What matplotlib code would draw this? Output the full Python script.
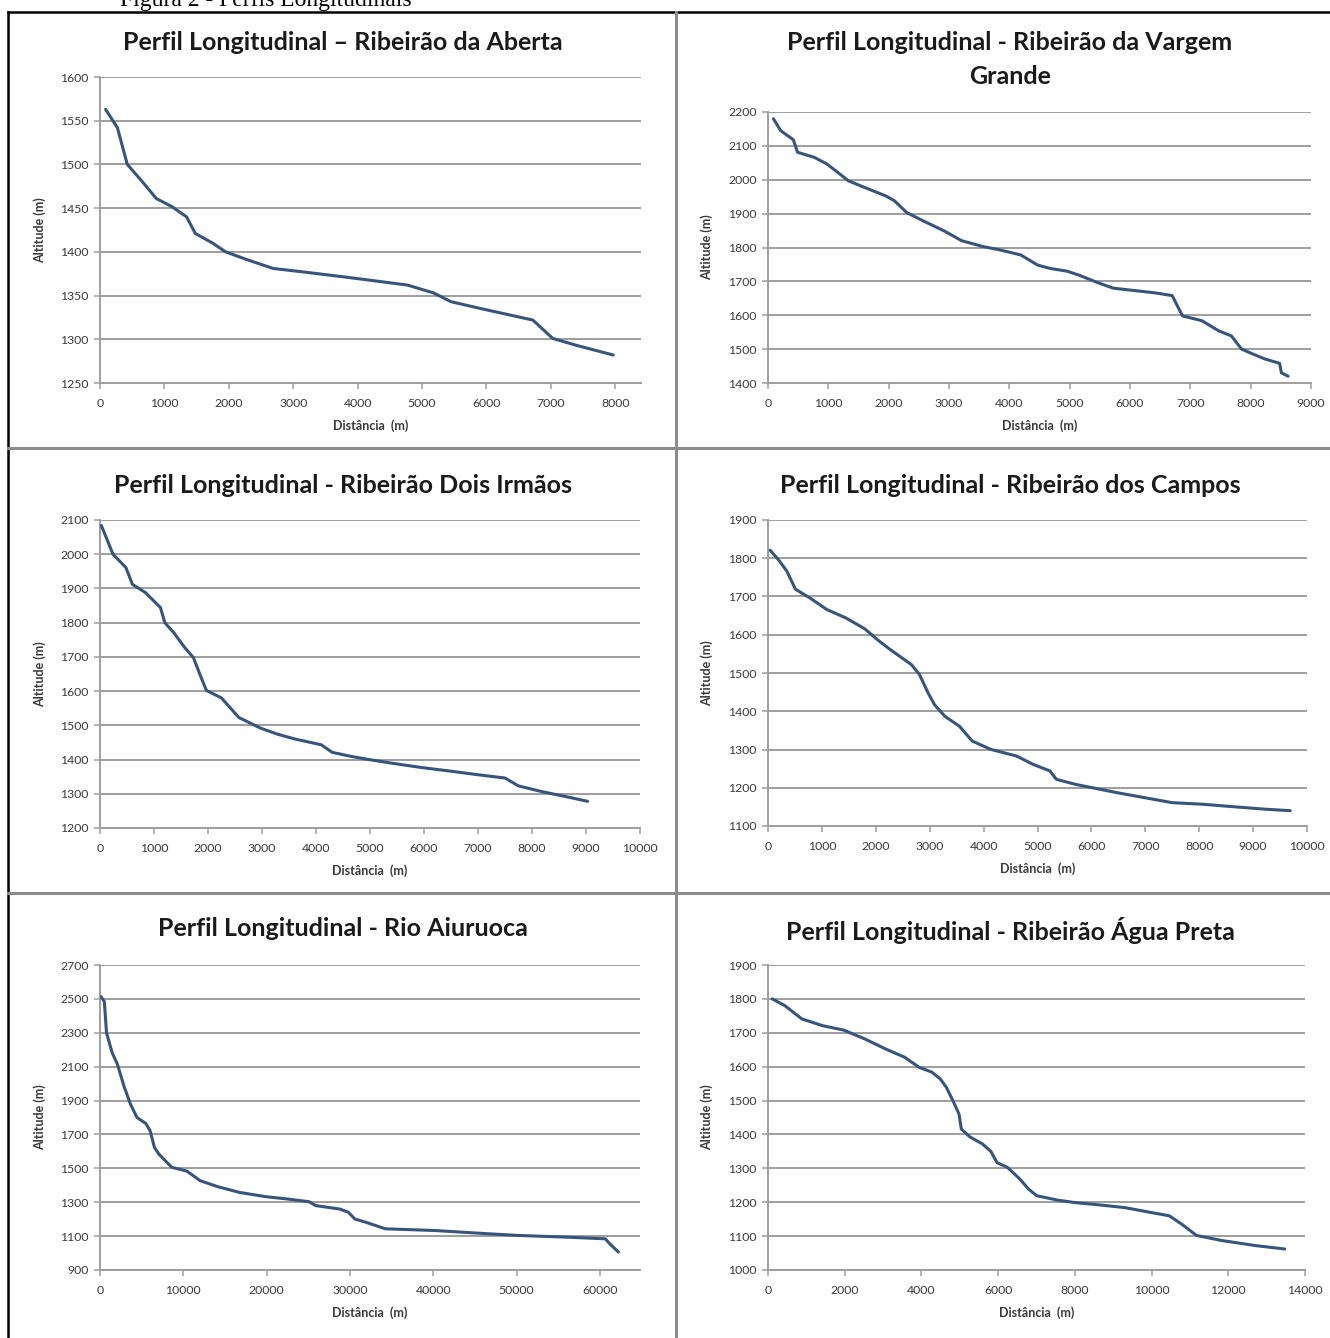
import matplotlib
matplotlib.use("Agg")
import matplotlib.pyplot as plt
from matplotlib.lines import Line2D

plt.rcParams['font.family'] = ['Lato', 'DejaVu Sans']

# Perfil 1 - Ribeirão da Aberta
dist_aberta = [87, 270, 424, 672, 874, 1110, 1345, 1480, 1750, 1950, 2286, 2690, 3160,
               3830, 4775, 5180, 5450, 5920, 6720, 7030, 7400, 7970]
alt_aberta = [1563, 1542, 1500, 1479, 1461, 1452, 1440, 1421, 1410, 1400, 1391, 1381, 1377,
              1371, 1362, 1353, 1343, 1335, 1322, 1301, 1293, 1282]

# Perfil 2 - Ribeirão da Vargem Grande
dist_vargem = [90, 210, 420, 490, 770, 980, 1190, 1330, 1605, 1955, 2095, 2300, 2580, 2930,
               3210, 3560, 3840, 4190, 4470, 4680, 4960, 5160, 5440, 5720, 6070, 6420, 6700,
               6770, 6870, 7190, 7470, 7680, 7850, 8030, 8235, 8480, 8510, 8620]
alt_vargem = [2180, 2145, 2118, 2081, 2066, 2046, 2017, 1997, 1977, 1952, 1938, 1903, 1878, 1848,
              1820, 1803, 1793, 1778, 1748, 1738, 1730, 1718, 1698, 1680, 1673, 1666, 1658,
              1633, 1598, 1584, 1554, 1539, 1500, 1486, 1471, 1458, 1430, 1420]

# Perfil 3 - Ribeirão Dois Irmãos
dist_dois = [25, 240, 480, 600, 840, 1120, 1200, 1365, 1570, 1730, 1850, 1970, 2250, 2570,
             2970, 3290, 3610, 4100, 4300, 4660, 4980, 5380, 5940, 6500, 6980, 7500, 7750,
             8190, 8590, 9030]
alt_dois = [2084, 2000, 1961, 1912, 1888, 1844, 1800, 1771, 1727, 1698, 1649, 1602, 1580, 1523,
            1492, 1474, 1460, 1443, 1421, 1409, 1400, 1390, 1377, 1366, 1356, 1346, 1323,
            1306, 1293, 1278]

# Perfil 4 - Ribeirão dos Campos
dist_campos = [40, 195, 350, 510, 780, 1090, 1445, 1800, 2030, 2270, 2660, 2810, 2970, 3090,
               3280, 3550, 3790, 4140, 4610, 4920, 5230, 5350, 5700, 6020, 6480, 7030, 7500,
               8050, 8670, 9220, 9690]
alt_campos = [1821, 1796, 1766, 1719, 1696, 1666, 1644, 1615, 1587, 1561, 1522, 1496, 1448, 1417,
              1387, 1361, 1322, 1300, 1283, 1261, 1244, 1222, 1209, 1200, 1187, 1173, 1161,
              1157, 1150, 1144, 1140]

# Perfil 5 - Rio Aiuruoca
dist_aiuruoca = [100, 520, 780, 1460, 2090, 2870, 3660, 4440, 5490, 6010, 6530, 7060, 8620,
                 10450, 12020, 14110, 16730, 19860, 22480, 25090, 25880, 28750, 29800, 30580,
                 31890, 34240, 40250, 45480, 50180, 55930, 60640, 61160, 62210]
alt_aiuruoca = [2514, 2484, 2300, 2182, 2114, 1986, 1878, 1800, 1765, 1722, 1624, 1584, 1506,
                1483, 1427, 1392, 1358, 1333, 1319, 1303, 1280, 1260, 1241, 1201,
                1182, 1143, 1133, 1117, 1104, 1094, 1084, 1055, 1006]

# Perfil 6 - Ribeirão Água Preta
dist_agua = [110, 440, 880, 1420, 1970, 2520, 3070, 3560, 3940, 4270, 4490, 4650, 4820, 4980,
             5040, 5260, 5590, 5810, 5970, 6240, 6570, 6790, 7010, 7560, 8000, 8650, 9310,
             9970, 10460, 10790, 11170, 11830, 12710, 13470]
alt_agua = [1800, 1780, 1741, 1721, 1708, 1682, 1652, 1628, 1598, 1584, 1564, 1539, 1500, 1460,
            1416, 1393, 1372, 1350, 1317, 1303, 1268, 1239, 1219, 1206, 1199, 1192, 1184,
            1170, 1160, 1135, 1102, 1087, 1072, 1062]

W, H = 1330, 1338

def fx(px):
    return px / W

def fy(py):
    return 1 - py / H

# (títulos, centro x do título, y dos títulos, x, y, xlim, passo x, ylim, passo y, retângulo px)
panels = [
    (["Perfil Longitudinal – Ribeirão da Aberta"], 343, [42],
     dist_aberta, alt_aberta, (0, 8400), 1000, (1250, 1600), 50, (100, 77, 641, 383)),
    (["Perfil Longitudinal - Ribeirão da Vargem", "Grande"], 1010, [42, 76],
     dist_vargem, alt_vargem, (0, 9000), 1000, (1400, 2200), 100, (768, 112, 1311, 383)),
    (["Perfil Longitudinal - Ribeirão Dois Irmãos"], 343, [486],
     dist_dois, alt_dois, (0, 10000), 1000, (1200, 2100), 100, (100, 520, 640, 828)),
    (["Perfil Longitudinal - Ribeirão dos Campos"], 1010, [486],
     dist_campos, alt_campos, (0, 10000), 1000, (1100, 1900), 100, (768, 520, 1307, 826)),
    (["Perfil Longitudinal - Rio Aiuruoca"], 343, [928],
     dist_aiuruoca, alt_aiuruoca, (0, 64800), 10000, (900, 2700), 200, (100, 965, 640, 1270)),
    (["Perfil Longitudinal - Ribeirão Água Preta"], 1010, [930],
     dist_agua, alt_agua, (0, 14000), 2000, (1000, 1900), 100, (768, 965, 1305, 1270)),
]

fig = plt.figure(figsize=(W / 100, H / 100), dpi=100)

grid_col = '#9e9e9e'
line_col = '#37557c'
text_col = '#3a3a3a'

for titles, tcx, tys, xs, ys, xlim, xstep, ylim, ystep, (l, t, r, b) in panels:
    ax = fig.add_axes([fx(l), fy(b), fx(r) - fx(l), fy(t) - fy(b)])
    ax.plot(xs, ys, color=line_col, lw=2.2, solid_capstyle='round', zorder=3)
    ax.set_xlim(*xlim)
    ax.set_ylim(*ylim)
    xt = list(range(xlim[0], xlim[1] + 1, xstep))
    yt = list(range(ylim[0], ylim[1] + 1, ystep))
    ax.set_xticks(xt)
    ax.set_yticks(yt)
    ax.grid(axis='y', color=grid_col, lw=1.4)
    ax.set_axisbelow(True)
    for s in ['top', 'right']:
        ax.spines[s].set_visible(False)
    for s in ['left', 'bottom']:
        ax.spines[s].set_color(grid_col)
        ax.spines[s].set_linewidth(1.4)
    ax.tick_params(axis='both', colors=grid_col, labelcolor=text_col, labelsize=8.8,
                   length=4, width=1.1, direction='out')
    ax.tick_params(axis='x', pad=7)
    ax.tick_params(axis='y', pad=4)
    ax.set_xlabel("Distância  (m)", fontsize=9, fontweight='bold', color=text_col, labelpad=7)
    ax.set_ylabel("Altitude (m)", fontsize=9, fontweight='bold', color=text_col)
    ax.yaxis.set_label_coords(-(l - (46 if l < 600 else 713)) / (r - l), 0.5)
    for txt, ty in zip(titles, tys):
        fig.text(fx(tcx), fy(ty), txt, ha='center', va='center', fontsize=18,
                 fontweight='bold', color='#1a1a1a')

# moldura e divisórias
fig.add_artist(Line2D([fx(8), fx(8)], [fy(12), 0], color='black', lw=1.8))
fig.add_artist(Line2D([fx(8), 1], [fy(12), fy(12)], color='black', lw=1.8))
fig.add_artist(Line2D([fx(676), fx(676)], [fy(12), 0], color='#8c8c8c', lw=2.2))
fig.add_artist(Line2D([fx(8), 1], [fy(448), fy(448)], color='#8c8c8c', lw=2.2))
fig.add_artist(Line2D([fx(8), 1], [fy(893), fy(893)], color='#8c8c8c', lw=2.2))

fig.text(fx(120), fy(6), "Figura 2 - Perfis Longitudinais", family='Liberation Serif',
         fontsize=17, ha='left', va='baseline', color='black')

fig.savefig("out.png", dpi=100)
